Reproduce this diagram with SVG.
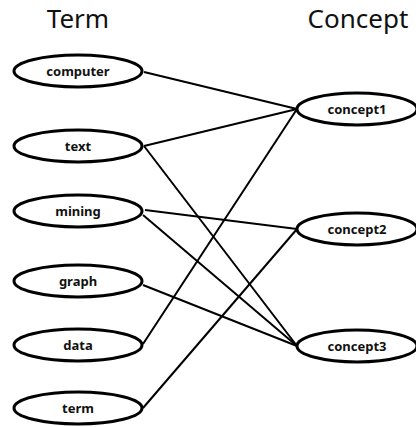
<svg xmlns="http://www.w3.org/2000/svg" width="416" height="427" viewBox="0 0 416 427">
  <style>
    .node ellipse { fill: #ffffff; stroke: #000000; stroke-width: 3; }
    .node text { font-family: "Noto Sans", "Open Sans", sans-serif; font-size: 13px; font-weight: bold; fill: #111111; text-anchor: middle; dominant-baseline: central; }
    .title { font-family: "Noto Sans", "Open Sans", sans-serif; font-size: 26px; fill: #111111; text-anchor: middle; }
    #edges line { stroke: #000000; stroke-width: 2; }
  </style>
  <rect width="416" height="427" fill="#ffffff"/>

  <text class="title" x="78" y="28">Term</text>
  <text class="title" x="358" y="28">Concept</text>

  <g id="edges">
    <line x1="144" y1="72" x2="297" y2="109"/>
    <line x1="144" y1="146" x2="297" y2="109"/>
    <line x1="144" y1="146" x2="297" y2="346"/>
    <line x1="145" y1="210" x2="297" y2="229"/>
    <line x1="143" y1="215" x2="297" y2="346"/>
    <line x1="143" y1="285" x2="297" y2="346"/>
    <line x1="143" y1="344" x2="297" y2="109"/>
    <line x1="143" y1="408" x2="297" y2="229"/>
  </g>

  <g id="computer" class="node"><ellipse cx="78" cy="71" rx="64" ry="16"/><text x="78" y="71">computer</text></g>
  <g id="text" class="node"><ellipse cx="78" cy="146" rx="64" ry="16"/><text x="78" y="146">text</text></g>
  <g id="mining" class="node"><ellipse cx="78" cy="211" rx="64" ry="16"/><text x="78" y="211">mining</text></g>
  <g id="graph" class="node"><ellipse cx="78" cy="281" rx="64" ry="16"/><text x="78" y="281">graph</text></g>
  <g id="data" class="node"><ellipse cx="78" cy="345" rx="64" ry="16"/><text x="78" y="345">data</text></g>
  <g id="term" class="node"><ellipse cx="78" cy="408" rx="64" ry="16"/><text x="78" y="408">term</text></g>

  <g id="concept1" class="node"><ellipse cx="357" cy="109" rx="60" ry="16"/><text x="357" y="109">concept1</text></g>
  <g id="concept2" class="node"><ellipse cx="357" cy="229" rx="60" ry="16"/><text x="357" y="229">concept2</text></g>
  <g id="concept3" class="node"><ellipse cx="357" cy="346" rx="60" ry="16"/><text x="357" y="346">concept3</text></g>
</svg>
